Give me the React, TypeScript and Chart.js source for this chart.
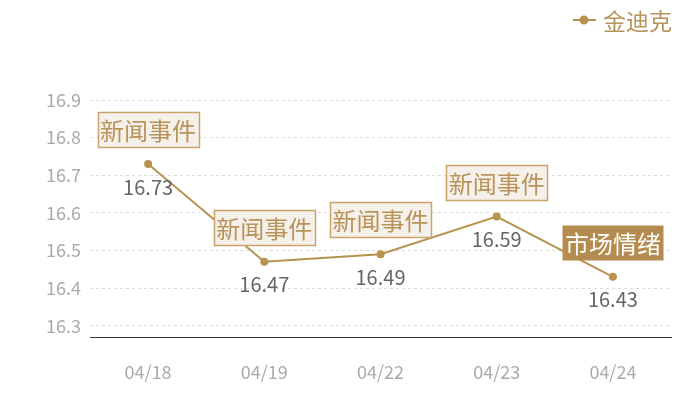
import { useEffect, useRef } from 'react'
import { Chart, registerables } from 'chart.js'
Chart.register(...registerables)

const dates = ['04/18', '04/19', '04/22', '04/23', '04/24']
const prices = [16.73, 16.47, 16.49, 16.59, 16.43]
const tags = ['新闻事件', '新闻事件', '新闻事件', '新闻事件', '市场情绪']
const tagKinds = ['news', 'news', 'news', 'news', 'mood']
const yTicks = [16.3, 16.4, 16.5, 16.6, 16.7, 16.8, 16.9]
const seriesName = '金迪克'

const GOLD = '#b8924f'
const FONT = '"Noto Sans CJK SC", "Noto Sans", sans-serif'

// tag boxes above each point and value labels below
const tagPlugin = {
  id: 'tags',
  afterDatasetsDraw(chart: Chart) {
    const ctx = chart.ctx
    const meta = chart.getDatasetMeta(0)
    ctx.save()
    meta.data.forEach((pt: any, i: number) => {
      const x = pt.x
      const y = pt.y
      // value label
      ctx.font = `20px ${FONT}`
      ctx.fillStyle = '#666666'
      ctx.textAlign = 'center'
      ctx.textBaseline = 'middle'
      ctx.fillText(String(prices[i]), x, y + 23)

      // tag box
      ctx.font = `24px ${FONT}`
      const w = ctx.measureText(tags[i]).width + 5
      const h = 35
      const bx = Math.round(x - w / 2) + 0.5
      const by = Math.round(y - 17 - h) + 0.5
      if (tagKinds[i] === 'mood') {
        ctx.fillStyle = '#b58c4f'
        ctx.fillRect(bx, by, w, h)
        ctx.fillStyle = '#ffffff'
      } else {
        ctx.fillStyle = '#f5f0ea'
        ctx.fillRect(bx, by, w, h)
        ctx.strokeStyle = '#c9a56d'
        ctx.lineWidth = 1.5
        ctx.strokeRect(bx, by, w, h)
        ctx.fillStyle = '#b8935a'
      }
      ctx.fillText(tags[i], x, by + h / 2 + 1)
    })
    ctx.restore()
  },
  afterDraw(chart: Chart) {
    // legend in echarts style: line with dot, then name
    const ctx = chart.ctx
    ctx.save()
    const cy = 20
    ctx.strokeStyle = GOLD
    ctx.lineWidth = 2
    ctx.beginPath()
    ctx.moveTo(573, cy)
    ctx.lineTo(596, cy)
    ctx.stroke()
    ctx.fillStyle = GOLD
    ctx.beginPath()
    ctx.arc(584, cy, 4.5, 0, Math.PI * 2)
    ctx.fill()
    ctx.font = `23px ${FONT}`
    ctx.textAlign = 'left'
    ctx.textBaseline = 'middle'
    ctx.fillStyle = '#b8935a'
    ctx.fillText(String(chart.data.datasets[0].label), 603, cy + 1)
    ctx.restore()
  },
}

export default function App() {
  const chartRef = useRef<HTMLCanvasElement>(null)
  const chartInstance = useRef<Chart | null>(null)

  useEffect(() => {
    document.body.style.margin = '0'
    if (!chartRef.current) return
    if (chartInstance.current) {
      chartInstance.current.destroy()
    }
    const ctx = chartRef.current.getContext('2d')
    if (!ctx) return

    chartInstance.current = new Chart(ctx, {
      type: 'line',
      data: {
        labels: dates,
        datasets: [
          {
            label: seriesName,
            data: prices,
            borderColor: GOLD,
            backgroundColor: GOLD,
            borderWidth: 2,
            pointRadius: 4,
            pointBorderWidth: 0,
            pointBackgroundColor: GOLD,
            tension: 0,
          },
        ],
      },
      options: {
        animation: false,
        responsive: false,
        layout: {
          padding: { top: 100, left: 0, right: 29, bottom: 0 },
        },
        plugins: {
          legend: { display: false },
          tooltip: { enabled: false },
        },
        scales: {
          x: {
            offset: true,
            grid: { display: false, drawTicks: false },
            border: { display: true, color: '#333333', width: 1 },
            ticks: {
              color: '#aaaaaa',
              font: { family: FONT, size: 18 },
              padding: 24,
            },
            afterFit: (scale: any) => {
              scale.height = 63
            },
          },
          y: {
            min: 16.27,
            max: 16.9,
            afterBuildTicks: (scale: any) => {
              scale.ticks = yTicks.map((v) => ({ value: v }))
            },
            afterFit: (scale: any) => {
              scale.width = 90
            },
            border: { display: false, dash: [3, 3] },
            grid: {
              color: '#dddddd',
              drawTicks: false,
              lineWidth: 1,
            },
            ticks: {
              color: '#aaaaaa',
              font: { family: FONT, size: 18 },
              padding: 9,
              callback: (v: any) => Number(v).toFixed(1),
            },
          },
        },
      },
      plugins: [tagPlugin],
    })

    return () => {
      if (chartInstance.current) {
        chartInstance.current.destroy()
        chartInstance.current = null
      }
    }
  }, [])

  return (
    <div style={{ width: 700, height: 400, position: 'relative' }}>
      <canvas ref={chartRef} width={700} height={400} />
    </div>
  )
}
